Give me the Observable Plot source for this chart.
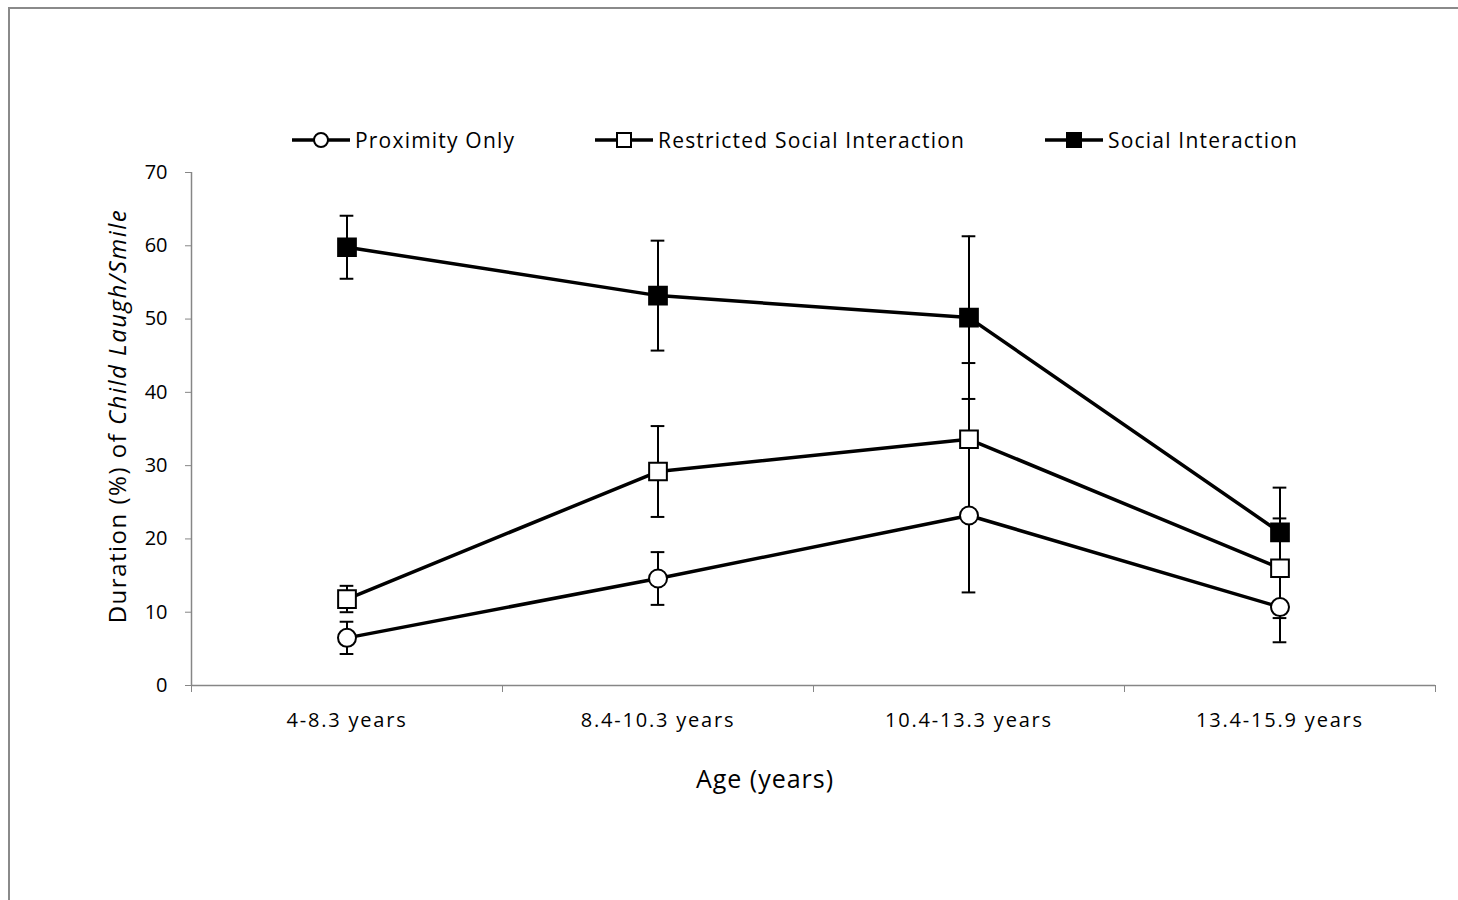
<!DOCTYPE html>
<html><head><meta charset="utf-8">
<script src="https://cdn.jsdelivr.net/npm/d3@7"></script>
<script src="https://cdn.jsdelivr.net/npm/@observablehq/plot@0.6"></script>
<style>
body{margin:0;background:#fff;font-family:"Open Sans",Lato,sans-serif;}
#wrap{position:relative;width:1458px;height:900px;overflow:hidden;background:#fff;}
#frame{position:absolute;left:8px;top:7px;width:1470px;height:920px;border:2px solid #8a8a8a;box-sizing:border-box;}
#chart{position:absolute;left:0;top:0;}
#chart g[aria-label="x-axis tick label"] text{letter-spacing:1.8px;}
.leg{position:absolute;top:125px;height:30px;display:flex;align-items:center;font-size:21px;letter-spacing:1.2px;color:#000;white-space:nowrap;}
.leg svg{margin-right:5px;}
</style>
</head><body>
<div id="wrap">
  <div id="frame"></div>
  <div id="chart"></div>
  <div id="legend"></div>
</div>
<script>
const categories = ["4-8.3 years", "8.4-10.3 years", "10.4-13.3 years", "13.4-15.9 years"];
const seriesNames = ["Proximity Only", "Restricted Social Interaction", "Social Interaction"];
const proximity = [6.5, 14.6, 23.2, 10.7];
const proximityErr = [2.2, 3.6, 10.5, 4.8];
const restricted = [11.8, 29.2, 33.6, 16.0];
const restrictedErr = [1.8, 6.2, 10.4, 6.8];
const social = [59.8, 53.2, 50.2, 20.9];
const socialErr = [4.3, 7.5, 11.1, 6.1];
const yTicks = [0, 10, 20, 30, 40, 50, 60, 70];
const xTitle = "Age (years)";

const seriesData = [
  {name: seriesNames[0], values: proximity, errs: proximityErr, symbol: "circle", fill: "white"},
  {name: seriesNames[1], values: restricted, errs: restrictedErr, symbol: "square", fill: "white"},
  {name: seriesNames[2], values: social, errs: socialErr, symbol: "square", fill: "black"}
];
const rows = [];
seriesData.forEach(s => s.values.forEach((v, i) => rows.push({series: s.name, idx: i + 0.5, cat: categories[i], y: v, err: s.errs[i], symbol: s.symbol, fill: s.fill})));

const gray = "#868686";
const capHalf = 0.022;

const plot = Plot.plot({
  width: 1458,
  height: 900,
  marginLeft: 191,
  marginRight: 23,
  marginTop: 172,
  marginBottom: 215,
  style: {fontSize: "20px", fontFamily: "'Open Sans', Lato, sans-serif", color: "#000", background: "transparent"},
  x: {domain: [0, 4]},
  y: {domain: [0, 70]},
  marks: [
    Plot.ruleX([0], {stroke: gray, strokeWidth: 1.5}),
    Plot.ruleY([0], {stroke: gray, strokeWidth: 1.5}),
    Plot.axisY({ticks: yTicks, tickSize: 6, tickPadding: 18, stroke: gray, fill: "#000", label: null, fontSize: 20}),
    Plot.axisX({ticks: [0, 1, 2, 3, 4], tickSize: 7, tickFormat: () => "", stroke: gray, label: null}),
    Plot.axisX({ticks: categories.map((c, i) => i + 0.5), tickSize: 0, tickPadding: 27, tickFormat: d => categories[Math.floor(d)], fill: "#000", label: null, fontSize: 20}),
    // error bars
    Plot.ruleX(rows, {x: "idx", y1: d => d.y - d.err, y2: d => d.y + d.err, stroke: "#000", strokeWidth: 2}),
    Plot.ruleY(rows, {y: d => d.y + d.err, x1: d => d.idx - capHalf, x2: d => d.idx + capHalf, stroke: "#000", strokeWidth: 2}),
    Plot.ruleY(rows, {y: d => d.y - d.err, x1: d => d.idx - capHalf, x2: d => d.idx + capHalf, stroke: "#000", strokeWidth: 2}),
    // lines
    Plot.line(rows, {x: "idx", y: "y", z: "series", stroke: "#000", strokeWidth: 3.5}),
    // markers
    Plot.dot(rows.filter(d => d.symbol === "circle"), {x: "idx", y: "y", r: 9, symbol: "circle", fill: "white", stroke: "#000", strokeWidth: 2}),
    Plot.dot(rows.filter(d => d.symbol === "square"), {x: "idx", y: "y", r: 10, symbol: "square", fill: d => d.fill, stroke: "#000", strokeWidth: 2})
  ]
});
document.getElementById("chart").appendChild(plot);

// axis titles
const svg = d3.select(plot);
const yt = svg.append("text")
  .attr("transform", "translate(120,416) rotate(-90)")
  .attr("text-anchor", "middle")
  .attr("dominant-baseline", "middle")
  .attr("font-size", 24)
  .attr("letter-spacing", "1.5px")
  .attr("fill", "#000");
yt.append("tspan").text("Duration (%) of ");
yt.append("tspan").attr("font-style", "italic").text("Child Laugh/Smile");
svg.append("text")
  .attr("x", 765).attr("y", 781)
  .attr("text-anchor", "middle")
  .attr("dominant-baseline", "middle")
  .attr("font-size", 25)
  .attr("letter-spacing", "1px")
  .attr("fill", "#000")
  .text(xTitle);

// legend
const legendLefts = [292, 595, 1045];
const legend = document.getElementById("legend");
seriesData.forEach((s, i) => {
  const item = document.createElement("div");
  item.className = "leg";
  item.style.left = legendLefts[i] + "px";
  const ns = "http://www.w3.org/2000/svg";
  const icon = document.createElementNS(ns, "svg");
  icon.setAttribute("width", 58); icon.setAttribute("height", 30);
  const ln = document.createElementNS(ns, "line");
  ln.setAttribute("x1", 0); ln.setAttribute("x2", 58); ln.setAttribute("y1", 15); ln.setAttribute("y2", 15);
  ln.setAttribute("stroke", "#000"); ln.setAttribute("stroke-width", 3.5);
  icon.appendChild(ln);
  let m;
  if (s.symbol === "circle") {
    m = document.createElementNS(ns, "circle");
    m.setAttribute("cx", 29); m.setAttribute("cy", 15); m.setAttribute("r", 7);
  } else {
    m = document.createElementNS(ns, "rect");
    m.setAttribute("x", 22); m.setAttribute("y", 8); m.setAttribute("width", 14); m.setAttribute("height", 14);
  }
  m.setAttribute("fill", s.fill); m.setAttribute("stroke", "#000"); m.setAttribute("stroke-width", 2);
  icon.appendChild(m);
  item.appendChild(icon);
  const t = document.createElement("span");
  t.textContent = s.name;
  item.appendChild(t);
  legend.appendChild(item);
});
</script>
</body></html>
